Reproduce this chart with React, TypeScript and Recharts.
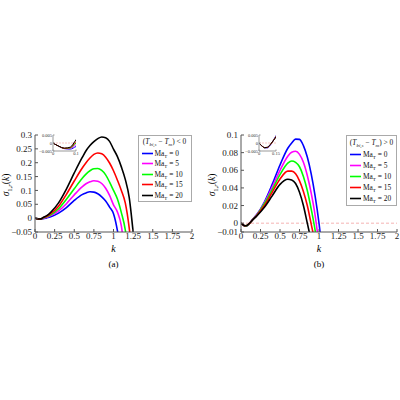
import {Line, LineChart, ReferenceLine, XAxis, YAxis} from 'recharts';

const FONT = '"Liberation Serif", "Times New Roman", serif';

// wavenumbers shared by every curve
const K = [0, 0.025, 0.05, 0.075, 0.1, 0.15, 0.2, 0.3, 0.4, 0.5, 0.6, 0.65, 0.7, 0.75, 0.8, 0.85, 0.9, 0.95, 1.0, 1.05, 1.1, 1.15, 1.2, 1.25, 1.3];
const MA_T = [0, 5, 10, 15, 20];
const COLORS = ['#0000ff', '#ff00ff', '#00ff00', '#ff0000', '#000000'];

// panel (a): (T_bi,s - T_m) < 0
const A_MA0 = [0, -0.002, -0.0035, -0.0038, -0.0022, 0.001, 0.005, 0.018, 0.038, 0.064, 0.085, 0.091, 0.095, 0.094, 0.088, 0.077, 0.062, 0.04, 0.016, -0.045, -0.14];
const A_MA5 = [0, -0.002, -0.0035, -0.0035, -0.001, 0.003, 0.009, 0.026, 0.052, 0.084, 0.113, 0.124, 0.131, 0.135, 0.133, 0.125, 0.108, 0.082, 0.048, 0.022, -0.028, -0.15];
const A_MA10 = [0, -0.002, -0.0034, -0.0032, 0.0, 0.005, 0.012, 0.034, 0.068, 0.106, 0.143, 0.159, 0.171, 0.178, 0.179, 0.172, 0.156, 0.13, 0.1, 0.069, 0.02, -0.042, -0.16];
const A_MA15 = [0, -0.002, -0.0033, -0.0029, 0.001, 0.007, 0.016, 0.043, 0.086, 0.134, 0.18, 0.2, 0.217, 0.23, 0.235, 0.232, 0.22, 0.199, 0.171, 0.137, 0.1, 0.055, -0.035, -0.17];
const A_MA20 = [0, -0.002, -0.0032, -0.0026, 0.002, 0.009, 0.021, 0.055, 0.105, 0.163, 0.218, 0.243, 0.262, 0.276, 0.287, 0.293, 0.29, 0.277, 0.249, 0.222, 0.185, 0.14, 0.075, -0.05, -0.2];

// panel (b): (T_bi,s - T_m) > 0
const B_MA0 = [0, -0.0018, -0.003, -0.003, -0.0013, 0.0045, 0.0095, 0.024, 0.044, 0.066, 0.085, 0.091, 0.0953, 0.095, 0.088, 0.075, 0.056, 0.031, 0.0, -0.04];
const B_MA5 = [0, -0.0018, -0.003, -0.0029, -0.0012, 0.0043, 0.0092, 0.023, 0.041, 0.06, 0.076, 0.0805, 0.0815, 0.078, 0.069, 0.054, 0.034, 0.009, -0.025];
const B_MA10 = [0, -0.0018, -0.003, -0.0028, -0.0011, 0.0041, 0.0088, 0.022, 0.038, 0.055, 0.068, 0.0705, 0.069, 0.064, 0.053, 0.037, 0.016, -0.008, -0.04];
const B_MA15 = [0, -0.0018, -0.0029, -0.0027, -0.001, 0.0039, 0.0084, 0.02, 0.035, 0.05, 0.059, 0.059, 0.056, 0.048, 0.036, 0.02, -0.001, -0.022];
const B_MA20 = [0, -0.0018, -0.0029, -0.0026, -0.0009, 0.0037, 0.008, 0.018, 0.031, 0.044, 0.0498, 0.049, 0.045, 0.035, 0.02, 0.0, -0.02];

const X_TICKS = [0, 0.25, 0.5, 0.75, 1, 1.25, 1.5, 1.75, 2];
const A_Y_TICKS = [-0.05, 0, 0.05, 0.1, 0.15, 0.2, 0.25, 0.3];
const B_Y_TICKS = [-0.01, 0, 0.02, 0.04, 0.06, 0.08, 0.1];
const INSET_Y_TICKS = [-0.005, 0, 0.005];
const A_INSET_X_TICKS = [0, 0.1];
const B_INSET_X_TICKS = [0, 0.15];

function toRows(series: number[][]) {
  return K.map((k, i) => {
    const row: Record<string, number | null> = {k};
    series.forEach((s, j) => {
      row[`ma${MA_T[j]}`] = s[i] ?? null;
    });
    return row;
  });
}

const fmt = (v: number) => String(v).replace('-', '\u2212');

const subStyle = {fontSize: 5, lineHeight: 0, verticalAlign: '-1.5px'};

interface PanelProps {
  left: number;
  width: number;
  rightMargin: number;
  series: number[][];
  yDomain: [number, number];
  yTicks: number[];
  inset: {left: number; width: number; xMax: number; xTicks: number[]};
  zeroLine: boolean;
  sign: string;
  legend: {left: number; width: number; height: number; titleY: number; rowY: number; rowGap: number};
  tag: string;
}

function Panel({left, width, rightMargin, series, yDomain, yTicks, inset, zeroLine, sign, legend, tag}: PanelProps) {
  const rows = toRows(series);
  const plotLeft = left + 35;
  const plotRight = left + width - rightMargin;
  const midX = (plotLeft + plotRight) / 2;
  const tickStyle = {fontSize: 9, fill: '#222', fontFamily: FONT};
  const insetTick = {fontSize: 4.5, fill: '#333', fontFamily: FONT};

  return (
    <>
      <div style={{position: 'absolute', left, top: 120}}>
        <LineChart width={width} height={130} data={rows} margin={{top: 15, right: rightMargin, bottom: 4, left: 0}}>
          <XAxis dataKey="k" type="number" domain={[0, 2]} ticks={X_TICKS} interval={0} allowDataOverflow
                 tickFormatter={fmt} tick={tickStyle} tickSize={-3} tickMargin={4} height={14} stroke="#555" />
          <XAxis xAxisId="top" orientation="top" dataKey="k" type="number" domain={[0, 2]} height={0}
                 tick={false} tickLine={false} stroke="#bbb" />
          <YAxis type="number" domain={yDomain} ticks={yTicks} interval={0} allowDataOverflow
                 tickFormatter={fmt} tick={tickStyle} tickSize={-3} tickMargin={6} width={35} stroke="#555" />
          <YAxis yAxisId="right" orientation="right" type="number" domain={yDomain} width={0}
                 tick={false} tickLine={false} stroke="#bbb" />
          {zeroLine && <ReferenceLine y={0} stroke="#f2a0a0" strokeDasharray="3 2" strokeWidth={0.8} />}
          {MA_T.map((ma, j) => (
            <Line key={ma} dataKey={`ma${ma}`} type="monotone" stroke={COLORS[j]} strokeWidth={1.6}
                  dot={false} activeDot={false} isAnimationActive={false} connectNulls={false} />
          ))}
        </LineChart>
      </div>

      <div style={{position: 'absolute', left: inset.left, top: 132}}>
        <LineChart width={inset.width + 6} height={27} data={rows} margin={{top: 3, right: 8, bottom: 2, left: 0}}>
          <XAxis dataKey="k" type="number" domain={[0, inset.xMax]} ticks={inset.xTicks} interval={0} allowDataOverflow
                 tickFormatter={fmt} tick={insetTick} tickSize={-1.5} tickMargin={2} height={6} stroke="#999" />
          <XAxis xAxisId="top" orientation="top" dataKey="k" type="number" domain={[0, inset.xMax]} height={0}
                 tick={false} tickLine={false} stroke="#999" />
          <YAxis type="number" domain={[-0.005, 0.005]} ticks={INSET_Y_TICKS} interval={0} allowDataOverflow
                 tickFormatter={fmt} tick={insetTick} tickSize={-1.5} tickMargin={2.5} width={16} stroke="#999" />
          <YAxis yAxisId="right" orientation="right" type="number" domain={[-0.005, 0.005]} width={0}
                 tick={false} tickLine={false} stroke="#999" />
          <ReferenceLine y={0} stroke="#f2a0a0" strokeDasharray="2 1" strokeWidth={0.6} />
          {MA_T.map((ma, j) => (
            <Line key={ma} dataKey={`ma${ma}`} type="monotone" stroke={COLORS[j]} strokeWidth={1}
                  dot={false} activeDot={false} isAnimationActive={false} connectNulls={false} />
          ))}
        </LineChart>
      </div>

      <div style={{
        position: 'absolute', left: legend.left, top: 134.5, width: legend.width, height: legend.height,
        border: '1px solid #aaa', background: '#fff', boxSizing: 'border-box', fontSize: 7.4, color: '#111',
      }}>
        <div style={{position: 'absolute', left: 0, right: 0, top: legend.titleY - 4.5, height: 8, lineHeight: '8px', textAlign: 'center', whiteSpace: 'nowrap'}}>
          (<i>T</i><sub style={subStyle}><i>bi,s</i></sub> − <i>T</i><sub style={subStyle}><i>m</i></sub>) {sign} 0
        </div>
        {MA_T.map((ma, j) => (
          <div key={ma} style={{
            position: 'absolute', left: 3, top: legend.rowY + j * legend.rowGap - 4.5, height: 9,
            lineHeight: '9px', display: 'flex', alignItems: 'center', whiteSpace: 'nowrap',
          }}>
            <svg width={11} height={9} style={{marginRight: 2}}>
              <line x1={0} x2={11} y1={4.5} y2={4.5} stroke={COLORS[j]} strokeWidth={1.6} />
            </svg>
            <span>Ma<sub style={subStyle}>T</sub> = {ma}</span>
          </div>
        ))}
      </div>

      <div style={{
        position: 'absolute', left: left + 7, top: 185, transform: 'translate(-50%, -50%) rotate(-90deg)',
        fontSize: 9.5, whiteSpace: 'nowrap',
      }}>
        <i>σ</i><sub style={{fontSize: 6.5}}>1,<i>r</i></sub>(<i>k</i>)
      </div>
      <div style={{position: 'absolute', left: midX, top: 248, transform: 'translate(-50%, -50%)', fontSize: 10, fontStyle: 'italic'}}>
        k
      </div>
      <div style={{position: 'absolute', left: midX, top: 264, transform: 'translate(-50%, -50%)', fontSize: 9}}>
        {tag}
      </div>
    </>
  );
}

export default function App() {
  return (
    <div style={{position: 'absolute', left: 0, top: 0, width: 400, height: 400, background: '#fff', fontFamily: FONT}}>
      <Panel left={0} width={200} rightMargin={8}
             series={[A_MA0, A_MA5, A_MA10, A_MA15, A_MA20]}
             yDomain={[-0.05, 0.3]} yTicks={A_Y_TICKS}
             inset={{left: 37, width: 41, xMax: 0.1, xTicks: A_INSET_X_TICKS}}
             zeroLine={false} sign="<"
             legend={{left: 137.5, width: 54, height: 67, titleY: 6.5, rowY: 17.5, rowGap: 10.5}}
             tag="(a)" />
      <Panel left={206} width={194} rightMargin={3}
             series={[B_MA0, B_MA5, B_MA10, B_MA15, B_MA20]}
             yDomain={[-0.01, 0.1]} yTicks={B_Y_TICKS}
             inset={{left: 243, width: 35, xMax: 0.15, xTicks: B_INSET_X_TICKS}}
             zeroLine sign=">"
             legend={{left: 346, width: 51, height: 71, titleY: 7.5, rowY: 18.5, rowGap: 11}}
             tag="(b)" />
    </div>
  );
}
